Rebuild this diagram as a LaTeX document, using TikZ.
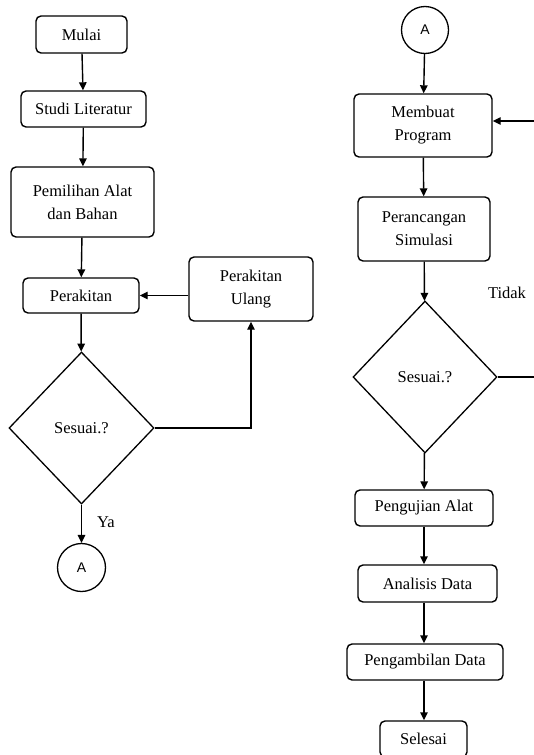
\documentclass[tikz,border=0pt]{standalone}
\usepackage{fontspec}
\setmainfont{Liberation Serif}
\newfontfamily\circfont{Liberation Sans}
\usetikzlibrary{shapes.geometric,arrows.meta}
\tikzset{
  box/.style={draw, line width=1.4pt, rounded corners=5pt, inner sep=0pt, align=center,
    font=\fontsize{16.5}{23}\selectfont},
  dec/.style={draw, line width=1.3pt, diamond, inner sep=0pt, font=\fontsize{16.5}{23}\selectfont},
  conn/.style={draw, line width=1.3pt, circle, inner sep=0pt, font=\circfont\fontsize{14}{16}\selectfont},
  arr/.style={line width=1.4pt, -{Triangle[length=8pt,width=7.5pt]}},
  lbl/.style={font=\fontsize{16.5}{20}\selectfont, inner sep=0pt}
}
\begin{document}
\begin{tikzpicture}[x=1pt,y=-1pt]
\useasboundingbox (0,0) rectangle (534,755);
% left column
\node[box, minimum width=91pt, minimum height=37pt] (mulai) at (81.5,34.5) {Mulai};
\node[box, minimum width=125pt, minimum height=36pt] (studi) at (83.5,109) {Studi Literatur};
\node[box, minimum width=143pt, minimum height=70pt] (pilih) at (82.5,202) {Pemilihan Alat\\dan Bahan};
\node[box, minimum width=116pt, minimum height=35pt] (rakit) at (81,295.5) {Perakitan};
\node[box, minimum width=124pt, minimum height=64pt] (ulang) at (251,289) {Perakitan\\Ulang};
\node[dec, minimum width=145pt, minimum height=152pt] (d1) at (81.5,428) {Sesuai.?};
\node[conn, minimum size=48pt] (a1) at (81.5,567.5) {A};
\node[lbl] (ya) at (106,522) {Ya};
\draw[arr] (mulai) -- (studi);
\draw[arr] (studi) -- (pilih);
\draw[arr] (pilih) -- (rakit);
\draw[arr] (rakit) -- (d1);
\draw[arr] (d1) -- (a1);
\draw[arr] (ulang.west |- rakit.east) -- (rakit.east);
\draw[arr] (d1.east) -| (ulang.south);
% right column
\node[conn, minimum size=47pt] (a2) at (425,30) {A};
\node[box, minimum width=138pt, minimum height=63pt] (prog) at (423,125.5) {Membuat\\Program};
\node[box, minimum width=132pt, minimum height=64pt] (sim) at (424,229) {Perancangan\\Simulasi};
\node[dec, minimum width=144pt, minimum height=152pt] (d2) at (425,377) {Sesuai.?};
\node[box, minimum width=138pt, minimum height=36pt] (uji) at (424,508) {Pengujian Alat};
\node[box, minimum width=139pt, minimum height=37pt] (anal) at (427.5,583.5) {Analisis Data};
\node[box, minimum width=156pt, minimum height=36pt] (ambil) at (425,662) {Pengambilan Data};
\node[box, minimum width=87pt, minimum height=36pt] (selesai) at (423.5,739) {Selesai};
\node[lbl] (tidak) at (507,293) {Tidak};
\coordinate (rc1) at (540,377);
\coordinate (rc2) at (540,121);
\draw[arr] (a2) -- (prog);
\draw[arr] (prog) -- (sim);
\draw[arr] (sim) -- (d2);
\draw[arr] (d2) -- (uji);
\draw[arr] (uji.south) -- (uji.south |- anal.north);
\draw[arr] (anal.south -| uji.south) -- (uji.south |- ambil.north);
\draw[arr] (ambil.south -| uji.south) -- (uji.south |- selesai.north);
\draw[arr] (d2.east) -- (rc1) -- (rc2) -- (prog.east |- rc2);
\end{tikzpicture}
\end{document}
